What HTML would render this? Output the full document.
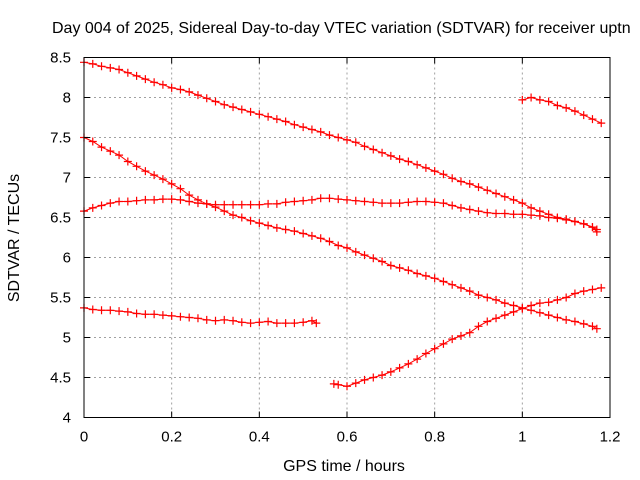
<!DOCTYPE html>
<html><head><meta charset="utf-8"><style>
body{margin:0;background:#fff}
svg{display:block;font-family:"Liberation Sans",sans-serif}
</style></head><body>
<svg id="chart" width="640" height="480" viewBox="0 0 640 480">
<rect width="640" height="480" fill="#fff"/>
<text x="52" y="33" font-size="16" fill="#000">Day 004 of 2025, Sidereal Day-to-day VTEC variation (SDTVAR) for receiver uptn</text>
<text x="344" y="471" font-size="16" text-anchor="middle">GPS time / hours</text>
<text transform="translate(19,238) rotate(-90)" font-size="16" text-anchor="middle">SDTVAR / TECUs</text>
<g id="grid"></g><g id="series"></g><g id="axes"></g>
</svg>
<script>
const xTicks=[0,0.2,0.4,0.6,0.8,1,1.2];
const xTickLabels=["0","0.2","0.4","0.6","0.8","1","1.2"];
const yTicks=[4,4.5,5,5.5,6,6.5,7,7.5,8,8.5];
const yTickLabels=["4","4.5","5","5.5","6","6.5","7","7.5","8","8.5"];
const xsA=[0,0.02,0.04,0.06,0.08,0.10,0.12,0.14,0.16,0.18,0.20,0.22,0.24,0.26,0.28,0.30,0.32,0.34,0.36,0.38,0.40,0.42,0.44,0.46,0.48,0.50,0.52,0.54,0.56,0.58,0.60,0.62,0.64,0.66,0.68,0.70,0.72,0.74,0.76,0.78,0.80,0.82,0.84,0.86,0.88,0.90,0.92,0.94,0.96,0.98,1.00,1.02,1.04,1.06,1.08,1.10,1.12,1.14,1.16,1.17];
const ysA=[8.44,8.42,8.39,8.37,8.35,8.31,8.27,8.23,8.19,8.16,8.12,8.1,8.07,8.03,7.99,7.95,7.91,7.88,7.85,7.82,7.79,7.76,7.73,7.7,7.66,7.63,7.6,7.57,7.53,7.5,7.47,7.44,7.39,7.35,7.31,7.27,7.23,7.2,7.16,7.12,7.08,7.04,6.99,6.95,6.92,6.88,6.84,6.8,6.76,6.72,6.68,6.62,6.58,6.54,6.5,6.48,6.45,6.42,6.38,6.35];
const xsB=[1.0,1.02,1.04,1.06,1.08,1.10,1.12,1.14,1.16,1.18];
const ysB=[7.97,8.0,7.97,7.95,7.9,7.87,7.83,7.78,7.73,7.68];
const xsC=xsA;
const ysC=[7.5,7.45,7.38,7.33,7.28,7.2,7.14,7.08,7.03,6.98,6.92,6.86,6.78,6.72,6.67,6.63,6.58,6.53,6.5,6.46,6.43,6.4,6.37,6.35,6.33,6.3,6.27,6.24,6.2,6.15,6.12,6.07,6.03,5.99,5.95,5.9,5.87,5.84,5.8,5.77,5.74,5.7,5.66,5.62,5.58,5.53,5.5,5.47,5.43,5.4,5.37,5.34,5.31,5.28,5.25,5.22,5.2,5.17,5.14,5.11];
const xsD=xsA;
const ysD=[6.58,6.62,6.65,6.68,6.7,6.7,6.71,6.72,6.72,6.73,6.73,6.72,6.7,6.68,6.67,6.66,6.66,6.66,6.66,6.66,6.66,6.67,6.67,6.69,6.7,6.71,6.72,6.74,6.74,6.73,6.72,6.71,6.7,6.69,6.68,6.68,6.68,6.69,6.7,6.7,6.69,6.68,6.65,6.62,6.6,6.58,6.56,6.55,6.55,6.54,6.54,6.53,6.52,6.5,6.49,6.47,6.45,6.42,6.38,6.32];
const xsE=[0,0.02,0.04,0.06,0.08,0.10,0.12,0.14,0.16,0.18,0.20,0.22,0.24,0.26,0.28,0.30,0.32,0.34,0.36,0.38,0.40,0.42,0.44,0.46,0.48,0.50,0.52,0.53];
const ysE=[5.37,5.35,5.34,5.34,5.33,5.32,5.3,5.29,5.29,5.28,5.27,5.26,5.25,5.24,5.22,5.21,5.22,5.21,5.19,5.18,5.19,5.2,5.18,5.18,5.18,5.19,5.21,5.18];
const xsF=[0.57,0.58,0.60,0.62,0.64,0.66,0.68,0.70,0.72,0.74,0.76,0.78,0.80,0.82,0.84,0.86,0.88,0.90,0.92,0.94,0.96,0.98,1.00,1.02,1.04,1.06,1.08,1.10,1.12,1.14,1.16,1.18];
const ysF=[4.42,4.41,4.39,4.43,4.47,4.5,4.53,4.57,4.62,4.67,4.73,4.8,4.86,4.92,4.98,5.02,5.06,5.14,5.2,5.24,5.28,5.32,5.36,5.4,5.43,5.44,5.47,5.5,5.55,5.58,5.6,5.62];

const L=84,R=610,T=57.5,B=417.5;
const xS=v=>L+(v-0)/1.2*(R-L);
const yS=v=>B-(v-4)/4.5*(B-T);
const NS="http://www.w3.org/2000/svg";
function mk(tag,parent,attrs){const e=document.createElementNS(NS,tag);for(const k in attrs)e.setAttribute(k,attrs[k]);parent.appendChild(e);return e;}
const grid=document.getElementById('grid'),axes=document.getElementById('axes'),ser=document.getElementById('series');
xTicks.forEach((t,i)=>{const x=xS(t);
 if(i>0&&i<xTicks.length-1){const g=mk('line',grid,{x1:x,x2:x,y1:T,y2:B,stroke:'#a0a0a0','stroke-dasharray':'2,3'});
 
 }
 mk('line',axes,{x1:x,x2:x,y1:B,y2:B-6,stroke:'#000'});mk('line',axes,{x1:x,x2:x,y1:T,y2:T+6,stroke:'#000'});
 const tx=mk('text',axes,{x:x,y:B+24,'font-size':15,'text-anchor':'middle'});tx.textContent=xTickLabels[i];
 
 });
yTicks.forEach((t,i)=>{const y=yS(t);
 if(i>0&&i<yTicks.length-1){const g=mk('line',grid,{x1:L,x2:R,y1:y,y2:y,stroke:'#a0a0a0','stroke-dasharray':'2,3'});
 
 }
 mk('line',axes,{x1:L,x2:L+6,y1:y,y2:y,stroke:'#000'});mk('line',axes,{x1:R,x2:R-6,y1:y,y2:y,stroke:'#000'});
 const tx=mk('text',axes,{x:L-13,y:y+5,'font-size':15,'text-anchor':'end'});tx.textContent=yTickLabels[i];
 
 });
const border=mk('rect',axes,{x:L,y:T,width:R-L,height:B-T,fill:'none',stroke:'#000'});


[[xsA,ysA,'a'],[xsB,ysB,'b'],[xsC,ysC,'c'],[xsD,ysD,'d'],[xsE,ysE,'e'],[xsF,ysF,'f']].forEach(([xs,ys,n])=>{
 const g=mk('g',ser,{});
 
 
 let d='';xs.forEach((x,i)=>{d+=(i?'L':'M')+xS(x).toFixed(1)+','+yS(ys[i]).toFixed(1);});
 mk('path',g,{d:d,fill:'none',stroke:'#f00','stroke-width':1});
 xs.forEach((x,i)=>{const px=xS(x),py=yS(ys[i]);
  const p=mk('path',g,{d:`M${px-4},${py}H${px+4}M${px},${py-4}V${py+4}`,stroke:'#f00','stroke-width':1.2});
  
  });
});
</script>
</body></html>
